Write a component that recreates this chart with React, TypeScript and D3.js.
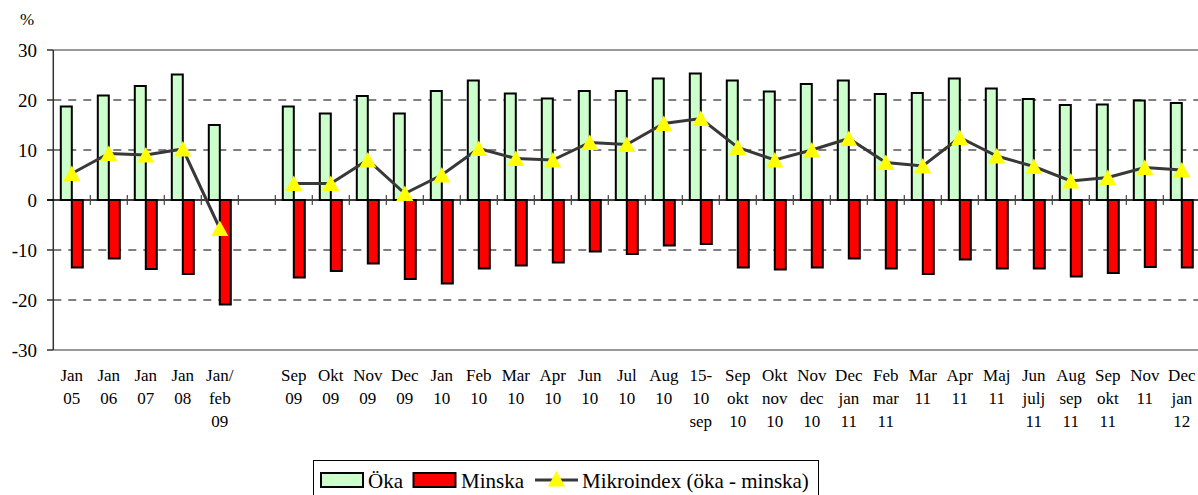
import React from 'react';
import * as d3 from 'd3';

// category labels (one entry per line), null = empty gap slot
const categories: (string[] | null)[] = [
  ['Jan', '05'], ['Jan', '06'], ['Jan', '07'], ['Jan', '08'], ['Jan/', 'feb', '09'],
  null,
  ['Sep', '09'], ['Okt', '09'], ['Nov', '09'], ['Dec', '09'], ['Jan', '10'], ['Feb', '10'],
  ['Mar', '10'], ['Apr', '10'], ['Jun', '10'], ['Jul', '10'], ['Aug', '10'], ['15-', '10', 'sep'],
  ['Sep', 'okt', '10'], ['Okt', 'nov', '10'], ['Nov', 'dec', '10'], ['Dec', 'jan', '11'],
  ['Feb', 'mar', '11'], ['Mar', '11'], ['Apr', '11'], ['Maj', '11'], ['Jun', 'julj', '11'],
  ['Aug', 'sep', '11'], ['Sep', 'okt', '11'], ['Nov', '11'], ['Dec', 'jan', '12'],
];

const oka: (number | null)[] = [
  18.7, 20.9, 22.8, 25.1, 15.0,
  null,
  18.7, 17.3, 20.8, 17.3, 21.8, 23.9, 21.3, 20.3, 21.8, 21.8, 24.3, 25.3,
  23.9, 21.7, 23.2, 23.9, 21.2, 21.4, 24.3, 22.3, 20.2, 19.0, 19.1, 19.9, 19.4,
];

const minska: (number | null)[] = [
  -13.5, -11.7, -13.8, -14.8, -20.9,
  null,
  -15.5, -14.2, -12.7, -15.8, -16.7, -13.7, -13.1, -12.5, -10.3, -10.8, -9.1, -8.8,
  -13.5, -13.9, -13.5, -11.7, -13.7, -14.8, -11.9, -13.7, -13.7, -15.3, -14.6, -13.4, -13.5,
];

const mikroindex: (number | null)[] = [
  5.3, 9.3, 9.0, 10.2, -5.7,
  null,
  3.3, 3.3, 8.0, 1.3, 5.0, 10.3, 8.3, 8.0, 11.5, 11.1, 15.3, 16.3,
  10.5, 8.0, 10.0, 12.3, 7.5, 6.8, 12.5, 8.8, 6.7, 3.8, 4.5, 6.5, 6.0,
];

const yTicks = [30, 20, 10, 0, -10, -20, -30];

const W = 1198;
const H = 495;
const font = "'Times New Roman', Times, 'Liberation Serif', 'DejaVu Serif', serif";

// Excel-like triangle marker, a bit wider than tall
const triShape = {
  draw(ctx: any) {
    ctx.moveTo(0, -8);
    ctx.lineTo(8.5, 7.5);
    ctx.lineTo(-8.5, 7.5);
    ctx.closePath();
  },
};
const triangle = d3.symbol().type(triShape as any);

export default function App() {
  const idx = categories.map((_, i) => i);
  const x = d3.scaleBand<number>().domain(idx).range([53.3, 1200.3]).padding(0);
  const y = d3.scaleLinear().domain([-30, 30]).range([350, 50]);
  const sub = d3.scaleBand<string>().domain(['oka', 'minska']).range([7.5, 29.5]).padding(0);

  const cx = (i: number) => (x(i) as number) + x.bandwidth() / 2;

  const line = d3.line<number | null>()
    .defined(d => d != null)
    .x((_, i) => cx(i))
    .y(d => y(d as number));

  const bar = (v: number | null, i: number, key: string, fill: string) => {
    if (v == null) return null;
    const x0 = (x(i) as number) + (sub(key) as number);
    return (
      <rect key={key + i} x={x0} width={sub.bandwidth()}
        y={Math.min(y(v), y(0))} height={Math.abs(y(v) - y(0))}
        fill={fill} stroke="#000" strokeWidth={2} />
    );
  };

  return (
    <svg width={W} height={H} style={{ position: 'absolute', left: 0, top: 0, background: '#fff', fontFamily: font }}>
      <text x={20} y={25} fontSize={17}>%</text>

      {/* grid */}
      {yTicks.filter(t => t !== 0 && Math.abs(t) !== 30).map(t => (
        <line key={'g' + t} x1={53.3} x2={W} y1={y(t)} y2={y(t)}
          stroke="#000" strokeWidth={1} strokeDasharray="8,7" />
      ))}
      <line x1={53.3} x2={W} y1={y(30)} y2={y(30)} stroke="#999" strokeWidth={2} />
      <line x1={53.3} x2={W} y1={y(-30)} y2={y(-30)} stroke="#999" strokeWidth={2} />

      {/* y axis */}
      <line x1={53.3} x2={53.3} y1={y(30)} y2={y(-30)} stroke="#333" strokeWidth={1.5} />
      {yTicks.map(t => (
        <g key={'t' + t}>
          <line x1={47} x2={53.3} y1={y(t)} y2={y(t)} stroke="#333" strokeWidth={1.5} />
          <text x={37} y={y(t)} dy="0.35em" textAnchor="end" fontSize={19}>{t}</text>
        </g>
      ))}

      {/* bars */}
      {oka.map((v, i) => bar(v, i, 'oka', '#CCFFCC'))}
      {minska.map((v, i) => bar(v, i, 'minska', '#FF0000'))}

      {/* zero line with category ticks */}
      <line x1={47} x2={W} y1={y(0)} y2={y(0)} stroke="#000" strokeWidth={1.5} />
      {idx.slice(1).map(i => (
        <line key={'c' + i} x1={x(i)} x2={x(i)} y1={y(0) - 5} y2={y(0) + 5}
          stroke="#444" strokeWidth={1.2} />
      ))}

      {/* line */}
      <path d={line(mikroindex) || ''} fill="none" stroke="#383838" strokeWidth={3} />
      {mikroindex.map((v, i) => v == null ? null : (
        <path key={'m' + i} d={triangle() || ''} fill="#FFFF00"
          transform={`translate(${cx(i)},${y(v)})`} />
      ))}

      {/* x labels */}
      {categories.map((c, i) => c == null ? null : (
        <text key={'x' + i} x={cx(i)} textAnchor="middle" fontSize={17}>
          {c.map((s, j) => (
            <tspan key={j} x={cx(i)} y={381 + j * 23}>{s}</tspan>
          ))}
        </text>
      ))}

      {/* legend */}
      <rect x={313.5} y={460.5} width={505} height={45} fill="#fff" stroke="#000" strokeWidth={1} />
      <rect x={321} y={473} width={42} height={14} fill="#CCFFCC" stroke="#000" strokeWidth={2} />
      <text x={368} y={488} fontSize={21}>Öka</text>
      <rect x={413.5} y={473} width={42} height={14} fill="#FF0000" stroke="#000" strokeWidth={2} />
      <text x={461} y={488} fontSize={21}>Minska</text>
      <line x1={535} x2={578} y1={480} y2={480} stroke="#383838" strokeWidth={3} />
      <path d={triangle() || ''} fill="#FFFF00" transform="translate(556.5,479)" />
      <text x={582} y={488} fontSize={21}>Mikroindex (öka - minska)</text>
    </svg>
  );
}
